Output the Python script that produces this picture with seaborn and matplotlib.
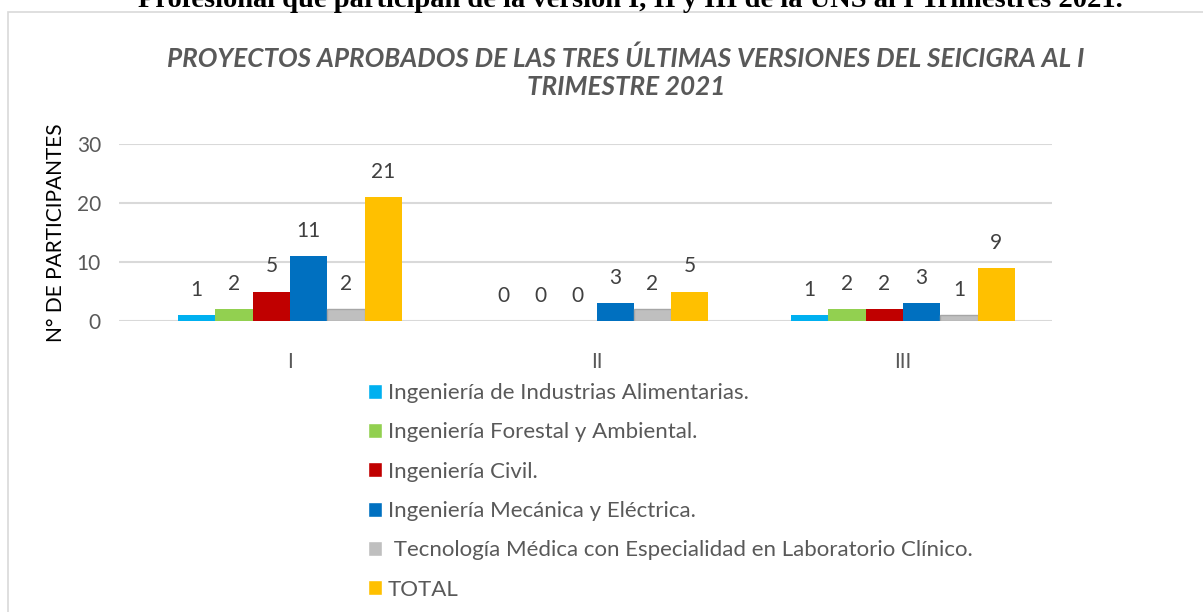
import pandas as pd
import numpy as np
import matplotlib
matplotlib.use('Agg')
import matplotlib.pyplot as plt
import seaborn as sns
from matplotlib.patches import Rectangle

# data
versions = ['I', 'II', 'III']
careers = ['Ingeniería de Industrias Alimentarias.',
           'Ingeniería Forestal y Ambiental.',
           'Ingeniería Civil.',
           'Ingeniería Mecánica y Eléctrica.',
           ' Tecnología Médica con Especialidad en Laboratorio Clínico.',
           'TOTAL']
alimentarias = [1, 0, 1]
forestal     = [2, 0, 2]
civil        = [5, 0, 2]
mecanica     = [11, 3, 3]
tecnologia   = [2, 2, 1]
total        = [21, 5, 9]
colors = ['#00B0F0', '#92D050', '#C00000', '#0070C0', '#BFBFBF', '#FFC000']

series = [alimentarias, forestal, civil, mecanica, tecnologia, total]
rows = []
for name, vals in zip(careers, series):
    for v, n in zip(versions, vals):
        rows.append({'version': v, 'carrera': name, 'n': n})
df = pd.DataFrame(rows)

sns.set_theme(style='white')
plt.rcParams['font.family'] = ['Lato', 'DejaVu Sans']

fig = plt.figure(figsize=(12.03, 6.12), dpi=100)
ax = fig.add_axes([119/1203, 1 - 321/612, 933/1203, (321 - 144)/612])

sns.barplot(data=df, x='version', y='n', hue='carrera', order=versions,
            hue_order=careers, palette=colors, width=0.73, gap=0,
            saturation=1, ax=ax, legend=True)

for i, cont in enumerate(ax.containers):
    for bar in cont:
        bar.set_linewidth(0)
        if i == 4:
            bar.set_edgecolor('#A6A6A6')
            bar.set_linewidth(1)
    ax.bar_label(cont, labels=[str(v) for v in series[i]], padding=11,
                 fontsize=15, color='#404040')

ax.set_ylim(0, 30)
ax.set_yticks([0, 10, 20, 30])
ax.set_xlim(-0.558, 2.486)
ax.yaxis.grid(True, color='#D9D9D9', lw=1.5)
ax.set_axisbelow(True)
for s in ax.spines.values():
    s.set_visible(False)
ax.tick_params(axis='both', length=0, labelsize=15, labelcolor='#595959')
ax.tick_params(axis='y', pad=13)
ax.tick_params(axis='x', pad=22)
ax.set_xlabel('')
ax.set_ylabel('N° DE PARTICIPANTES', fontsize=15, color='black', labelpad=8)

handles, labels = ax.get_legend_handles_labels()
ax.legend(handles, labels, loc='upper left', bbox_to_anchor=(368/1203, 1 - 383/612),
          bbox_transform=fig.transFigure, frameon=False, fontsize=16,
          labelcolor='#595959', handlelength=0.65, handleheight=0.65,
          handletextpad=0.25, labelspacing=0.87, borderaxespad=0,
          borderpad=0)

fig.text(626/1203, 1 - 58/612,
         'PROYECTOS APROBADOS DE LAS TRES ÚLTIMAS VERSIONES DEL SEICIGRA AL I',
         ha='center', va='center', fontsize=18.8, fontweight='bold',
         fontstyle='italic', color='#595959')
fig.text(626/1203, 1 - 87/612, 'TRIMESTRE 2021',
         ha='center', va='center', fontsize=18.8, fontweight='bold',
         fontstyle='italic', color='#595959')

# chart frame and clipped caption above it
fig.patches.append(Rectangle((8/1203, -0.05), 1.1, 1.05 - 12/612,
                             transform=fig.transFigure, fill=False,
                             edgecolor='#D9D9D9', lw=1.2))
fig.text(630/1203, 1 - 7/612,
         'Profesional que participan de la versión I, II y III de la UNS al I Trimestres 2021.',
         ha='center', va='baseline', fontsize=20.5, fontweight='bold',
         family=['Liberation Serif', 'DejaVu Serif'], color='black')

fig.savefig('out.png', dpi=100)
